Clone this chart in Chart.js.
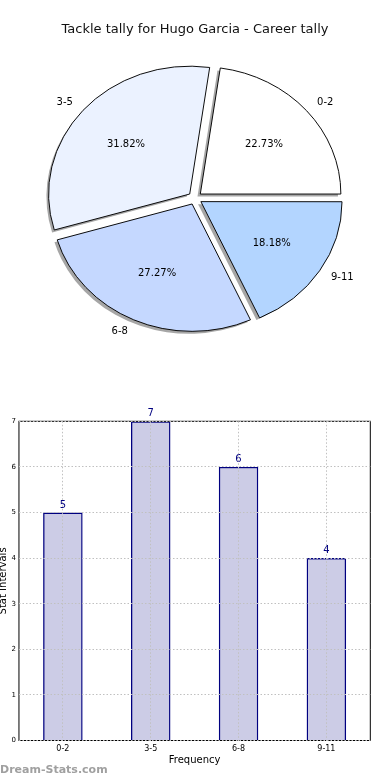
<!DOCTYPE html>
<html>
<head>
<meta charset="utf-8">
<script src="https://cdn.jsdelivr.net/npm/chart.js@4.4.0/dist/chart.umd.min.js"></script>
<style>
  html, body { margin: 0; padding: 0; background: #fff; }
  body { width: 390px; height: 780px; position: relative; overflow: hidden; font-family: "DejaVu Sans", sans-serif; }
  #title { position: absolute; top: 21px; left: 0; width: 390px; text-align: center; font-size: 13px; line-height: 16px; color: #111; }
  #pieBox { position: absolute; left: 0; top: 0; width: 390px; height: 360px; }
  #barBox { position: absolute; left: 0; top: 390px; width: 390px; height: 390px; }
  #brand { position: absolute; left: 0; top: 763px; font: bold 11px "DejaVu Sans", sans-serif; line-height: 14px; color: #a0a0a0; }
</style>
</head>
<body>
<div id="pieBox"><canvas id="pie" width="390" height="360"></canvas></div>
<div id="title">Tackle tally for Hugo Garcia - Career tally</div>
<div id="barBox"><canvas id="bar" width="390" height="390"></canvas></div>
<div id="brand">Dream-Stats.com</div>
<script>
// data
const categories = ["0-2", "3-5", "6-8", "9-11"];
const tallies = [5, 7, 6, 4];
const yTicks = [0, 1, 2, 3, 4, 5, 6, 7];

const pieColours = ["#ffffff", "#ebf2ff", "#c5d8ff", "#b3d5ff"];
const navy = "#000080";
const total = tallies.reduce((a, b) => a + b, 0);

// the pie is drawn anticlockwise from 3 o'clock, chart.js goes clockwise
const pieOrder = [3, 2, 1, 0];
const pieRadius = 140.5;
const explode = 7;
const squash = 127.3 / 140.5; // the pie is a bit wider than tall

const pieLook = {
  id: "pieLook",
  beforeDatasetsDraw(chart) {
    const ctx = chart.ctx;
    const arcs = chart.getDatasetMeta(0).data;
    const cx = arcs[0].x, cy = arcs[0].y;
    ctx.save();
    ctx.translate(cx, cy);
    ctx.scale(1, squash);
    ctx.translate(-cx, -cy);
    // shadows under the wedges
    ctx.fillStyle = "rgba(77,77,77,0.5)";
    arcs.forEach(a => {
      const p = a.getProps(["x", "y", "startAngle", "endAngle", "outerRadius"]);
      const mid = (p.startAngle + p.endAngle) / 2;
      const sx = p.x + Math.cos(mid) * explode - 2.8;
      const sy = p.y + Math.sin(mid) * explode + 2.5 / squash;
      ctx.beginPath();
      ctx.moveTo(sx, sy);
      ctx.arc(sx, sy, p.outerRadius, p.startAngle, p.endAngle);
      ctx.closePath();
      ctx.fill();
    });
  },
  afterDatasetsDraw(chart) {
    const ctx = chart.ctx;
    ctx.restore();
    const arcs = chart.getDatasetMeta(0).data;
    ctx.save();
    ctx.font = '10px "DejaVu Sans"';
    ctx.fillStyle = "#000";
    ctx.textBaseline = "middle";
    arcs.forEach((a, j) => {
      const i = pieOrder[j];
      const p = a.getProps(["x", "y", "startAngle", "endAngle", "outerRadius"]);
      const mid = (p.startAngle + p.endAngle) / 2;
      const at = k => {
        const d = explode + k * p.outerRadius;
        return [p.x + Math.cos(mid) * d, p.y + Math.sin(mid) * d * squash];
      };
      let [lx, ly] = at(1.1);
      ctx.textAlign = Math.cos(mid) > 0 ? "left" : "right";
      ctx.fillText(categories[i], lx, ly);
      [lx, ly] = at(0.6);
      ctx.textAlign = "center";
      ctx.fillText((tallies[i] / total * 100).toFixed(2) + "%", lx, ly);
    });
    ctx.restore();
  }
};

new Chart(document.getElementById("pie"), {
  type: "pie",
  data: {
    labels: pieOrder.map(i => categories[i]),
    datasets: [{
      data: pieOrder.map(i => tallies[i]),
      backgroundColor: pieOrder.map(i => pieColours[i]),
      borderColor: "#000",
      borderWidth: 1,
      hoverBorderWidth: 1,
      // chart.js moves an arc by a quarter of its offset
      offset: explode * 4,
      hoverOffset: explode * 4
    }]
  },
  options: {
    responsive: false,
    animation: false,
    events: [],
    rotation: 90,
    radius: pieRadius,
    layout: { padding: { left: 45, right: 45, top: 48.2, bottom: 11.8 } },
    plugins: { legend: { display: false }, tooltip: { enabled: false } }
  },
  plugins: [pieLook]
});

const barLook = {
  id: "barLook",
  afterDatasetsDraw(chart) {
    const { ctx, chartArea } = chart;
    ctx.save();
    // value on top of each bar
    ctx.font = '10px "DejaVu Sans"';
    ctx.fillStyle = navy;
    ctx.textAlign = "center";
    ctx.textBaseline = "alphabetic";
    chart.getDatasetMeta(0).data.forEach((b, i) => {
      ctx.fillText(String(tallies[i]), b.x, b.y - 5);
    });
    // box round the plot
    ctx.strokeStyle = "#000";
    ctx.lineWidth = 1;
    ctx.strokeRect(chartArea.left, chartArea.top, chartArea.width, chartArea.height);
    ctx.restore();
  }
};

const gridLook = { color: "#c0c0c0", lineWidth: 1, drawTicks: false, z: 1 };

new Chart(document.getElementById("bar"), {
  type: "bar",
  data: {
    labels: categories,
    datasets: [{
      data: tallies,
      backgroundColor: "rgba(0,0,128,0.2)",
      borderColor: navy,
      borderWidth: 1.4,
      barPercentage: 0.45,
      categoryPercentage: 1
    }]
  },
  options: {
    responsive: false,
    animation: false,
    events: [],
    layout: { padding: { left: -3.5, right: 19.7, top: 31.3, bottom: 13.9 } },
    plugins: { legend: { display: false }, tooltip: { enabled: false } },
    scales: {
      x: {
        grid: { ...gridLook, offset: false },
        border: { display: false, dash: [1.5, 2] },
        ticks: { color: "#000", font: { family: "DejaVu Sans", size: 8 }, padding: 4, maxRotation: 0 },
        title: { display: true, text: "Frequency", color: "#000", font: { family: "DejaVu Sans", size: 10 }, padding: { top: -4, bottom: 0 } }
      },
      y: {
        min: 0,
        max: yTicks[yTicks.length - 1],
        afterBuildTicks: scale => { scale.ticks = yTicks.map(v => ({ value: v })); },
        grid: gridLook,
        border: { display: false, dash: [1.5, 2] },
        ticks: { color: "#000", font: { family: "DejaVu Sans", size: 7 }, padding: 3 },
        title: { display: true, text: "Stat Intervals", color: "#000", font: { family: "DejaVu Sans", size: 10 }, padding: { top: 1, bottom: -1 } }
      }
    }
  },
  plugins: [barLook]
});
</script>
</body>
</html>
